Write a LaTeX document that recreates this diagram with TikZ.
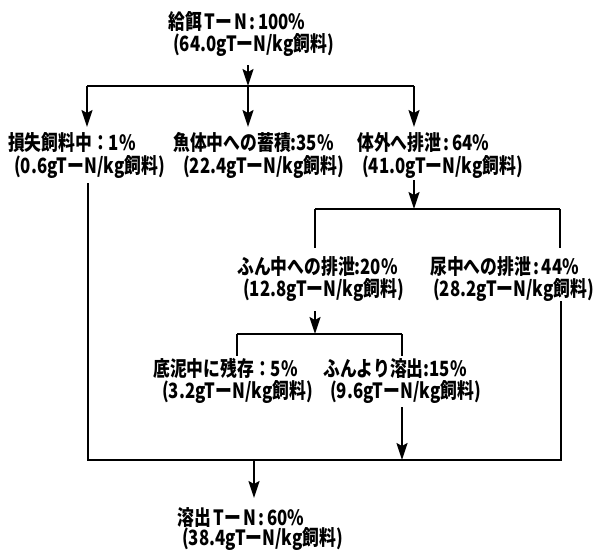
\documentclass[tikz,border=0pt]{standalone}
\usepackage{fontspec}
\newfontfamily\jp[FakeStretch=0.8]{Noto Sans CJK JP}
\usetikzlibrary{arrows.meta}
\newcommand{\gap}{\hspace{2.5pt}}
\tikzset{
  lbl/.style={anchor=base west, inner sep=0pt, font=\jp\bfseries\fontsize{21pt}{24pt}\selectfont},
  wire/.style={line width=1.8pt},
  arr/.style={wire, -{Stealth[length=17pt, width=11pt, inset=3pt]}}
}
\begin{document}
\begin{tikzpicture}[x=1pt, y=-1pt]
\useasboundingbox (0,0) rectangle (595,550);
% labels
\node[lbl] (feed)  at (168,29)  {給餌\gap Tー\gap N\gap:\gap 100\%};
\node[lbl] (feedv) at (173,51)  {(64.0gTーN/kg飼料)};
\node[lbl] (loss)  at (8,150)   {損失飼料中：1\%};
\node[lbl] (lossv) at (14,173)  {(0.6gTーN/kg飼料)};
\node[lbl] (fish)  at (173,150) {魚体中への蓄積:35\%};
\node[lbl] (fishv) at (183,173) {(22.4gTーN/kg飼料)};
\node[lbl] (excr)  at (357,150) {体外へ排泄\gap:\gap 64\%};
\node[lbl] (excrv) at (362,173) {(41.0gTーN/kg飼料)};
\node[lbl] (fec)   at (237,274) {ふん中への排泄:20\%};
\node[lbl] (fecv)  at (243,296) {(12.8gTーN/kg飼料)};
\node[lbl] (uri)   at (430,274) {尿中への排泄\gap:\gap 44\%};
\node[lbl] (uriv)  at (433,296) {(28.2gTーN/kg飼料)};
\node[lbl] (sed)   at (153,376) {底泥中に残存：5\%};
\node[lbl] (sedv)  at (162,398) {(3.2gTーN/kg飼料)};
\node[lbl] (dis)   at (323,376) {ふんより溶出:15\%};
\node[lbl] (disv)  at (330,398) {(9.6gTーN/kg飼料)};
\node[lbl] (out)   at (177,525) {溶出\gap Tー\gap N\gap:\gap 60\%};
\node[lbl] (outv)  at (182,545) {(38.4gTーN/kg飼料)};
% junction coordinates
\coordinate (b1m) at (248,86);
\coordinate (b1l) at (87,86);
\coordinate (b1r) at (414,86);
\coordinate (b2m) at (414,209);
\coordinate (b2l) at (315,209);
\coordinate (b2r) at (560,209);
\coordinate (b3m) at (315,334);
\coordinate (b3l) at (237,334);
\coordinate (b3r) at (402,334);
\coordinate (b4l) at (88,460);
\coordinate (b4r) at (561,460);
\coordinate (b4m) at (254,460);
\coordinate (b4d) at (402,460);
% connectors
\draw[arr] ([yshift=-14pt]b1m |- feedv.base) -- (b1m);
\draw[wire] (b1l) -- (b1r);
\draw[arr] (b1l) -- ([yshift=23pt]b1l |- loss.base);
\draw[arr] (b1m) -- ([yshift=23pt]b1m |- fish.base);
\draw[arr] (b1r) -- ([yshift=23pt]b1r |- excr.base);
\draw[arr] ([yshift=-7pt]b2m |- excrv.base) -- (b2m);
\draw[wire] (b2l) -- (b2r);
\draw[wire] (b2l) -- ([yshift=26pt]b2l |- fec.base);
\draw[wire] (b2r) -- ([yshift=26pt]b2r |- uri.base);
\draw[arr] ([yshift=-15pt]b3m |- fecv.base) -- (b3m);
\draw[wire] (b3l) -- (b3r);
\draw[wire] (b3l) -- ([yshift=20pt]b3l |- sed.base);
\draw[wire] (b3r) -- ([yshift=20pt]b3r |- dis.base);
\draw[arr] ([yshift=-9pt]b4d |- disv.base) -- (b4d);
\draw[wire] ([yshift=-10pt]b4l |- lossv.base) -- (b4l) -- (b4r) -- ([yshift=-5pt]b4r |- uriv.base);
\draw[arr] (b4m) -- ([yshift=27pt]b4m |- out.base);
\end{tikzpicture}
\end{document}
